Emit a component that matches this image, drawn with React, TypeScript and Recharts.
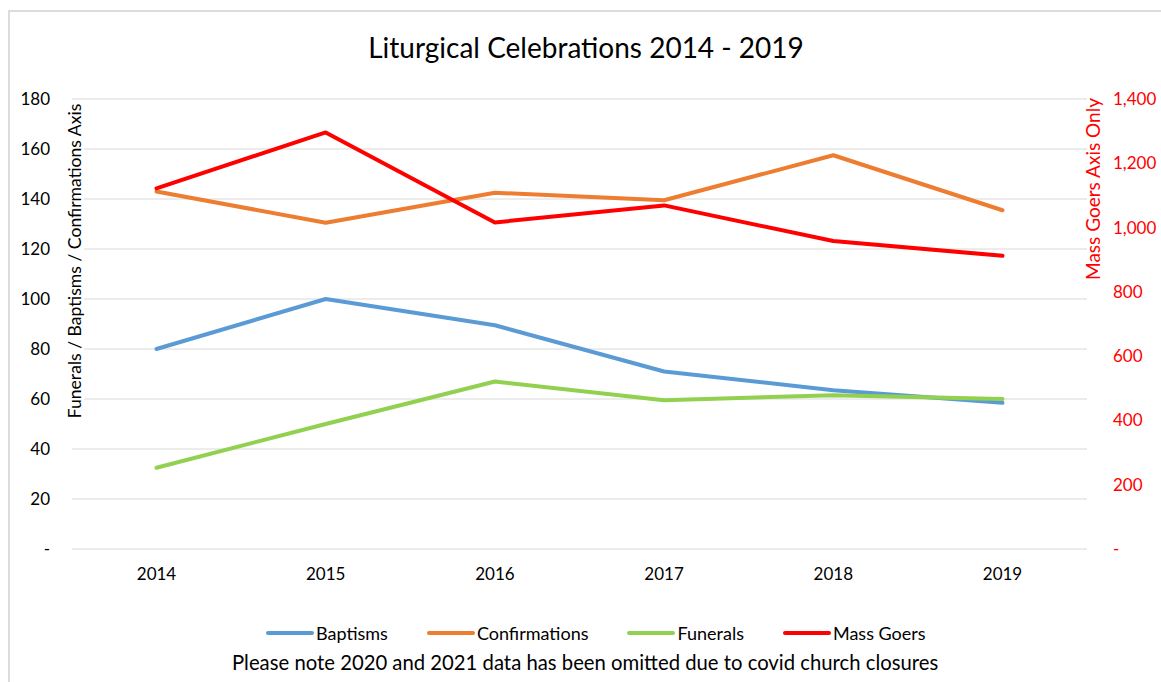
import { LineChart, Line, XAxis, YAxis, CartesianGrid } from 'recharts';

const years = ['2014', '2015', '2016', '2017', '2018', '2019'];
const baptisms = [80, 100, 89.5, 71, 63.5, 58.5];
const confirmations = [143, 130.5, 142.5, 139.5, 157.5, 135.5];
const funerals = [32.5, 50, 67, 59.5, 61.5, 60];
const massGoers = [1122, 1296, 1016, 1069, 958, 912];

const leftTicks = [0, 20, 40, 60, 80, 100, 120, 140, 160, 180];
const rightTicks = [0, 200, 400, 600, 800, 1000, 1200, 1400];

const series = [
  { key: 'baptisms', name: 'Baptisms', color: '#5B9BD5', axis: 'left' },
  { key: 'confirmations', name: 'Confirmations', color: '#ED7D31', axis: 'left' },
  { key: 'funerals', name: 'Funerals', color: '#92D050', axis: 'left' },
  { key: 'massGoers', name: 'Mass Goers', color: '#FF0000', axis: 'right' },
];

const data = years.map((year, i) => ({
  year,
  baptisms: baptisms[i],
  confirmations: confirmations[i],
  funerals: funerals[i],
  massGoers: massGoers[i],
}));

const font = 'Lato, "Noto Sans", sans-serif';

export default function App() {
  return (
    <div
      style={{
        position: 'absolute',
        left: 0,
        top: 0,
        width: 1161,
        height: 682,
        overflow: 'hidden',
        background: '#fff',
        fontFamily: font,
      }}
    >
      {/* chart frame */}
      <div
        style={{
          position: 'absolute',
          left: 8,
          top: 10,
          width: 1200,
          height: 720,
          border: '2px solid #dcdcdc',
          boxSizing: 'border-box',
        }}
      />

      <div
        style={{
          position: 'absolute',
          top: 30,
          left: 0,
          width: 1172,
          textAlign: 'center',
          fontSize: 28,
          color: '#000',
        }}
      >
        Liturgical Celebrations 2014 - 2019
      </div>

      <div style={{ position: 'absolute', left: 0, top: 0 }}>
        <LineChart
          width={1161}
          height={682}
          data={data}
          margin={{ top: 99, right: 14, left: 12, bottom: 103 }}
        >
          <CartesianGrid vertical={false} stroke="#d9d9d9" yAxisId="left" />
          <XAxis
            dataKey="year"
            height={30}
            axisLine={false}
            tickLine={false}
            tickSize={0}
            tickMargin={19}
            padding={{ left: 84.5, right: 84.5 }}
            tick={{ fontSize: 17, fill: '#000', fontFamily: font }}
          />
          <YAxis
            yAxisId="left"
            width={60}
            domain={[0, 180]}
            ticks={leftTicks}
            axisLine={false}
            tickLine={false}
            tickSize={0}
            tickMargin={22}
            tickFormatter={(v: number) => (v === 0 ? '-' : String(v))}
            tick={{ fontSize: 17, fill: '#000', fontFamily: font }}
          />
          <YAxis
            yAxisId="right"
            orientation="right"
            width={60}
            domain={[0, 1400]}
            ticks={rightTicks}
            axisLine={false}
            tickLine={false}
            tickSize={0}
            tickMargin={26}
            tickFormatter={(v: number) => (v === 0 ? '-' : v.toLocaleString('en-US'))}
            tick={{ fontSize: 17, fill: '#FF0000', fontFamily: font, textAnchor: 'start' }}
          />
          {series.map((s) => (
            <Line
              key={s.key}
              yAxisId={s.axis}
              type="linear"
              dataKey={s.key}
              name={s.name}
              stroke={s.color}
              strokeWidth={4}
              strokeLinecap="round"
              strokeLinejoin="round"
              dot={false}
              activeDot={false}
              isAnimationActive={false}
            />
          ))}
        </LineChart>
      </div>

      {/* axis titles */}
      <div
        style={{
          position: 'absolute',
          left: 74.5,
          top: 261,
          transform: 'translate(-50%, -50%) rotate(-90deg)',
          whiteSpace: 'nowrap',
          fontSize: 17.6,
          color: '#000',
          background: '#fff',
          lineHeight: '18px',
        }}
      >
        Funerals / Baptisms / Confirmations Axis
      </div>
      <div
        style={{
          position: 'absolute',
          left: 1093,
          top: 189,
          transform: 'translate(-50%, -50%) rotate(-90deg)',
          whiteSpace: 'nowrap',
          fontSize: 19,
          color: '#FF0000',
          lineHeight: '20px',
        }}
      >
        Mass Goers Axis Only
      </div>

      {/* legend */}
      <div
        style={{
          position: 'absolute',
          left: 265,
          top: 622,
          display: 'flex',
          alignItems: 'center',
          fontSize: 18,
          color: '#000',
          whiteSpace: 'nowrap',
        }}
      >
        {series.map((s) => (
          <div key={s.key} style={{ display: 'flex', alignItems: 'center', marginRight: 38 }}>
            <svg width={50} height={8} style={{ marginRight: 1 }}>
              <line x1={3} y1={4} x2={47} y2={4} stroke={s.color} strokeWidth={4} strokeLinecap="round" />
            </svg>
            <span>{s.name}</span>
          </div>
        ))}
      </div>
      <div
        style={{
          position: 'absolute',
          left: 232,
          top: 650,
          fontSize: 20.3,
          color: '#000',
          whiteSpace: 'nowrap',
        }}
      >
        Please note 2020 and 2021 data has been omitted due to covid church closures
      </div>
    </div>
  );
}
